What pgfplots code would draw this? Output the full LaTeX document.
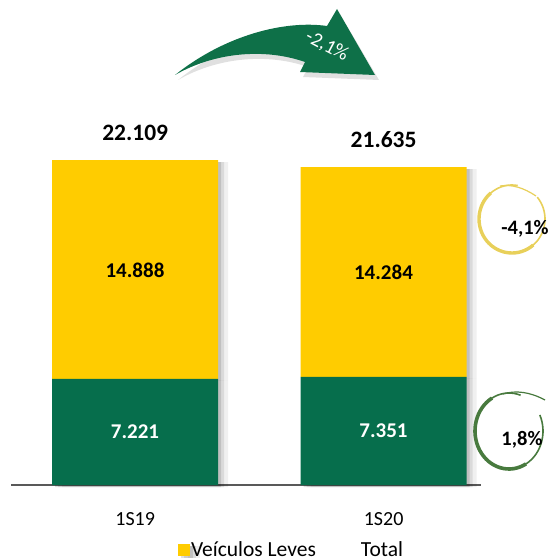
\documentclass[border=0pt]{standalone}
\usepackage{fontspec}
\setmainfont{Carlito}
\usepackage{pgfplots}
\pgfplotsset{compat=1.18}
\usetikzlibrary{shadows}
\definecolor{barY}{RGB}{255,204,0}
\definecolor{barG}{RGB}{6,110,76}
\definecolor{axgray}{RGB}{89,89,89}
\definecolor{arrG}{RGB}{14,112,72}
\definecolor{circY}{RGB}{232,208,90}
\definecolor{circG}{RGB}{72,122,62}
\tikzset{softshadow/.style={
  drop shadow={shadow xshift=3pt, shadow yshift=-2pt, opacity=0.12, fill=black},
  drop shadow={shadow xshift=6pt, shadow yshift=-2pt, opacity=0.09, fill=black},
  drop shadow={shadow xshift=10pt, shadow yshift=-2pt, opacity=0.06, fill=black}}}
\begin{document}
\begin{tikzpicture}
% bounding box: pixel (px,py) -> (px-11, 485-py)
\path[use as bounding box] (-11pt,-75pt) rectangle (542pt,485pt);
\begin{axis}[
  at={(0,0)}, anchor=south west,
  scale only axis, width=470pt, height=485pt,
  ybar stacked, bar width=166pt,
  xmin=-0.5, xmax=1.392, ymin=0, ymax=33,
  axis x line*=bottom, axis y line=none,
  x axis line style={draw=axgray, line width=1.2pt, -},
  xtick={0,1}, xticklabels={1S19,1S20}, major tick length=0pt,
  xticklabel style={font=\fontsize{20}{20}\selectfont, yshift=-24pt},
  ytick=\empty,
  clip=false,
  legend style={at={(rel axis cs:0.355,-0.133)}, anchor=west, draw=none, fill=none,
    inner sep=0pt, nodes={inner sep=1pt},
    legend columns=2, font=\fontsize{21.5}{21.5}\selectfont,
    /tikz/every even column/.append style={column sep=31pt}},
  legend image code/.code={\fill[#1] (0pt,-6pt) rectangle (12pt,6pt);},
]
\addplot[fill=barG, draw=none, forget plot, softshadow]
  coordinates {(0,7.221) (1,7.351)};
\addplot[fill=barY, draw=none, softshadow]
  coordinates {(0,14.888) (1,14.284)};
\addlegendentry{Veículos Leves}
\addlegendimage{legend image code/.code={\path[draw=none,fill=none] (0pt,-6pt) rectangle (12pt,6pt);}}
\addlegendentry{Total}
% totals
\node[font=\fontsize{23.5}{23.5}\selectfont\bfseries, anchor=base, yshift=20pt] at (axis cs:0,22.109) {22.109};
\node[font=\fontsize{23.5}{23.5}\selectfont\bfseries, anchor=base, yshift=20pt] at (axis cs:1,21.635) {21.635};
\end{axis}
\begin{scope}[x=1pt,y=-1pt,shift={(-11pt,485pt)}]
% segment labels
\node[font=\fontsize{21}{21}\selectfont\bfseries, text=white] at (135,432) {7.221};
\node[font=\fontsize{21}{21}\selectfont\bfseries, text=white] at (383.5,431) {7.351};
\node[font=\fontsize{21}{21}\selectfont\bfseries] at (135,270) {14.888};
\node[font=\fontsize{21}{21}\selectfont\bfseries] at (383.5,272) {14.284};
% arrow shadow
\fill[black, opacity=0.12] (178,80) .. controls (228,40) and (288,25) .. (330,31) -- (340,14) -- (379,80) -- (303,77) -- (308,67) .. controls (268,53) and (218,57) .. (178,80) -- cycle;
% arrow
\fill[arrG] (175,75) .. controls (225,35) and (285,20) .. (327,26) -- (337,9) -- (375,75) -- (300,72) -- (305,62) .. controls (265,48) and (215,52) .. (175,75) -- cycle;
\node[text=white, rotate=-28, font=\fontsize{20}{20}\selectfont] at (327,46) {-2,1\%};
% yellow circle
\draw[circY, line width=1.6pt] (512,219) ++(80:33pt and 34pt) arc[start angle=80, end angle=400, x radius=33pt, y radius=34pt];
\draw[circY, line width=3.4pt] (512,219) ++(130:33pt and 34pt) arc[start angle=130, end angle=310, x radius=33pt, y radius=34pt];
\draw[circY, line width=1.2pt] (500,186) .. controls (512,184) and (524,188) .. (536,196);
\node[font=\fontsize{20.5}{20.5}\selectfont\bfseries] at (525,229) {-4,1\%};
% green circle
\draw[circG, line width=1.6pt] (509,431) ++(70:34pt and 38pt) arc[start angle=70, end angle=385, x radius=34pt, y radius=38pt];
\draw[circG, line width=3.6pt] (509,431) ++(120:34pt and 38pt) arc[start angle=120, end angle=300, x radius=34pt, y radius=38pt];
\draw[circG, line width=1.2pt] (503,394) .. controls (516,390) and (530,392) .. (545,400);
\node[font=\fontsize{20.5}{20.5}\selectfont\bfseries] at (522,440) {1,8\%};
\end{scope}
\end{tikzpicture}
\end{document}
